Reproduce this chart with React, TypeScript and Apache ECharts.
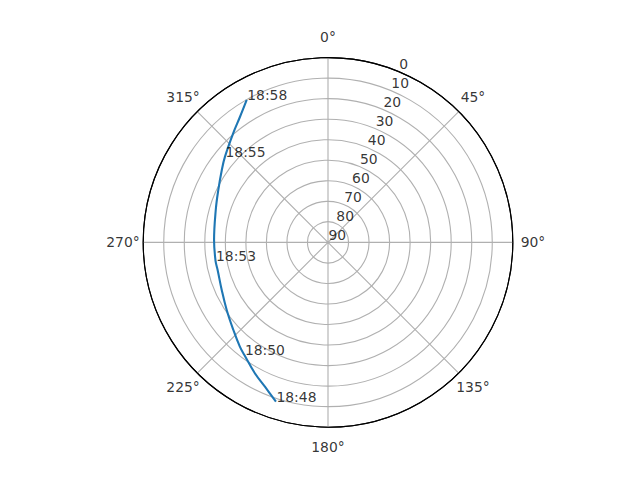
import { useRef, useEffect } from 'react'
import * as echarts from 'echarts'

// satellite pass track (azimuth in degrees, elevation in degrees)
const trackAzimuth = [198.1, 203.6, 209.2, 216.6, 220.2, 227.2, 236.3, 245.9, 256.0, 260.8, 271.2, 286.1, 295.5, 304.3, 309.8, 319.0, 325.0, 330.3]
const trackElevation = [8.4, 13.3, 17.0, 21.7, 23.5, 27.2, 30.7, 33.3, 34.6, 34.5, 34.5, 33.1, 30.8, 27.4, 24.7, 19.6, 15.3, 10.1]

// time annotations along the track
const labelTimes = ['18:48', '18:50', '18:53', '18:55', '18:58']
const labelAzimuth = [198.1, 216.6, 260.8, 309.8, 330.3]
const labelElevation = [8.4, 21.7, 34.5, 24.7, 10.1]

// axis ticks
const elevationTicks = [0, 10, 20, 30, 40, 50, 60, 70, 80, 90]
const azimuthTicks = [0, 45, 90, 135, 180, 225, 270, 315]

const FONT = 'DejaVu Sans'
const FONT_SIZE = 13.9
const CENTER = [328, 242.4]

function SkyPlot() {
  const chartRef = useRef<HTMLDivElement>(null)

  useEffect(() => {
    if (!chartRef.current) return
    const chart = echarts.init(chartRef.current, null, { renderer: 'svg' })

    // outermost ring is the black frame, the rest are grey grid circles
    const gridColors = elevationTicks.map((_, i) => (i === 0 ? '#000000' : '#b0b0b0'))

    const hiddenAngle = { type: 'value', min: 0, max: 360, startAngle: 90, clockwise: true, show: false }
    const hiddenRadius = { type: 'value', min: 0, max: 90, inverse: true, show: false }

    const option: any = {
      animation: false,
      backgroundColor: '#ffffff',
      polar: [
        { center: CENTER, radius: 184.8 },
        // ring just outside the plot, used for the azimuth labels
        { center: CENTER, radius: 205 },
      ],
      angleAxis: [
        {
          polarIndex: 0,
          type: 'value',
          min: 0,
          max: 360,
          interval: 45,
          startAngle: 90,
          clockwise: true,
          axisLine: { lineStyle: { color: '#000000', width: 1.1 } },
          axisTick: { show: false },
          axisLabel: { show: false },
          splitLine: { lineStyle: { color: '#b0b0b0', width: 1.1 } },
        },
        { polarIndex: 1, ...hiddenAngle },
      ],
      radiusAxis: [
        {
          polarIndex: 0,
          type: 'value',
          min: 0,
          max: 90,
          interval: 10,
          inverse: true,
          axisLine: { show: false },
          axisTick: { show: false },
          axisLabel: { show: false },
          splitLine: { lineStyle: { color: gridColors, width: 1.1 } },
        },
        { polarIndex: 1, ...hiddenRadius },
      ],
      series: [
        {
          type: 'line',
          coordinateSystem: 'polar',
          polarIndex: 0,
          data: trackElevation.map((e, i) => [e, trackAzimuth[i]]),
          symbol: 'none',
          smooth: 0.4,
          lineStyle: { color: '#1f77b4', width: 2.1 },
          silent: true,
          z: 3,
        },
        {
          // elevation tick labels along 22.5°
          type: 'scatter',
          coordinateSystem: 'polar',
          polarIndex: 0,
          data: elevationTicks.map(v => [v, 22.5]),
          symbolSize: 1,
          itemStyle: { color: 'rgba(0,0,0,0)' },
          silent: true,
          label: {
            show: true,
            position: [0, 0],
            align: 'left',
            verticalAlign: 'bottom',
            offset: [1, 0],
            formatter: (p: any) => String(p.value[0]),
            color: '#000000',
            fontFamily: FONT,
            fontSize: FONT_SIZE,
          },
        },
        {
          // azimuth tick labels
          type: 'scatter',
          coordinateSystem: 'polar',
          polarIndex: 1,
          data: azimuthTicks.map(a => [0, a]),
          symbolSize: 1,
          itemStyle: { color: 'rgba(0,0,0,0)' },
          silent: true,
          label: {
            show: true,
            position: 'inside',
            formatter: (p: any) => `${p.value[1]}°`,
            color: '#000000',
            fontFamily: FONT,
            fontSize: FONT_SIZE,
          },
        },
        {
          // time annotations
          type: 'scatter',
          coordinateSystem: 'polar',
          polarIndex: 0,
          data: labelElevation.map((e, i) => ({ value: [e, labelAzimuth[i]], name: labelTimes[i] })),
          symbolSize: 1,
          itemStyle: { color: 'rgba(0,0,0,0)' },
          silent: true,
          z: 4,
          label: {
            show: true,
            position: [0, 0],
            align: 'left',
            verticalAlign: 'bottom',
            offset: [1, 3],
            formatter: (p: any) => p.name,
            color: '#000000',
            fontFamily: FONT,
            fontSize: FONT_SIZE,
          },
        },
      ],
    }

    chart.setOption(option)
    return () => chart.dispose()
  }, [])

  return (
    <div
      ref={chartRef}
      style={{ position: 'fixed', left: 0, top: 0, width: 640, height: 480, background: '#ffffff' }}
    />
  )
}

export default function App() {
  return <SkyPlot />
}
